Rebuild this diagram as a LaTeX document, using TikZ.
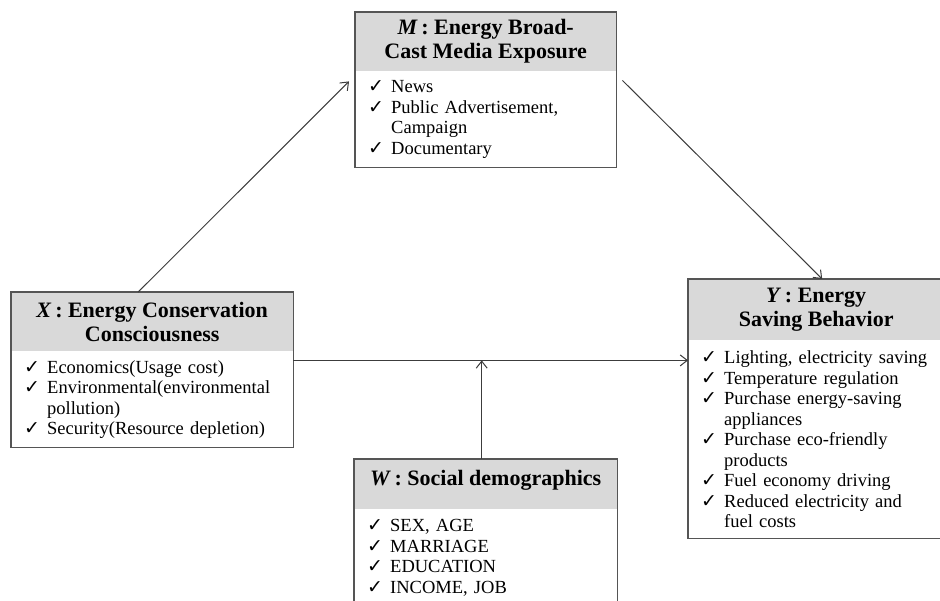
\documentclass[tikz,border=0pt]{standalone}
\usepackage{fontspec}
\setmainfont{Liberation Serif}
\newfontfamily\checkfont{DejaVu Sans}
\usepackage{tikz}
\usetikzlibrary{arrows.meta}
\usetikzlibrary{positioning}
\definecolor{headgray}{RGB}{217,217,217}
\definecolor{framegray}{RGB}{85,85,85}
\definecolor{linegray}{RGB}{60,60,60}
\newcommand{\tick}{\makebox[23pt][l]{\checkfont\fontsize{19}{19}\selectfont ✓}}
\newcommand{\cont}{\hspace*{23pt}}
\tikzstyle{model_style}=[
	x=1pt,y=1pt,
	>={Straight Barb[length=7pt,width=11pt]},
	header/.style={rectangle,fill=headgray,draw=none,inner sep=0pt,align=center,font=\fontsize{22}{24}\selectfont\bfseries},
	body/.style={rectangle,fill=white,draw=none,inner xsep=13pt,inner ysep=0pt,align=left,font=\fontsize{18.5}{20.5}\selectfont},
	boxframe/.style={draw=framegray,line width=1.3pt},
	path_edge/.style={->,color=linegray,line width=1pt}
]

\begin{document}
\begin{tikzpicture}[model_style]
	\useasboundingbox (0,0) rectangle (940,600);
	
	%X
	\node[header,minimum width=282pt,minimum height=59pt,anchor=north west] (hX) at (11,308) {\textit{X}\,:\ Energy Conservation\\Consciousness};
	\node[body,text width=256pt,minimum height=96pt,below=0pt of hX] (bX) {\tick Economics(Usage cost)\\\tick Environmental(environmental\\\cont pollution)\\\tick Security(Resource depletion)};
	
	%M
	\node[header,minimum width=261pt,minimum height=59pt,anchor=north west] (hM) at (355,588) {\textit{M}\,:\ Energy Broad-\\Cast Media Exposure};
	\node[body,text width=235pt,minimum height=96pt,below=0pt of hM] (bM) {\tick News\\\tick Public Advertisement,\\\cont Campaign\\\tick Documentary};
	
	%Y
	\node[header,minimum width=256pt,minimum height=61pt,anchor=north west] (hY) at (688,321) {\textit{Y}\,:\ Energy\\Saving Behavior};
	\node[body,text width=230pt,minimum height=198pt,below=0pt of hY] (bY) {\tick Lighting, electricity saving\\\tick Temperature regulation\\\tick Purchase energy-saving\\\cont appliances\\\tick Purchase eco-friendly\\\cont products\\\tick Fuel economy driving\\\tick Reduced electricity and\\\cont fuel costs};
	
	%W
	\node[header,minimum width=263pt,minimum height=50pt,text depth=12pt,anchor=north west] (hW) at (354,141) {\textit{W}\,:\ Social demographics};
	\node[body,text width=237pt,minimum height=96pt,below=0pt of hW] (bW) {\tick SEX, AGE\\\tick MARRIAGE\\\tick EDUCATION\\\tick INCOME, JOB};
	
	%frames
	\draw[boxframe] (hX.north west) rectangle (bX.south east);
	\draw[boxframe] (hM.north west) rectangle (bM.south east);
	\draw[boxframe] (hY.north west) rectangle (bY.south east);
	\draw[boxframe] (hW.north west) rectangle ([yshift=-20pt]bW.south east);
	
	\coordinate (jn) at ([yshift=-9pt]bX.north east);
	
	\path[path_edge] ([xshift=-14pt]hX.north) edge [] ([xshift=-6pt,yshift=-10pt]bM.north west)
	([xshift=6pt,yshift=-9pt]bM.north east) edge [] ([xshift=6pt]hY.north)
	(jn) edge [] (jn -| bY.west)
	([xshift=-4pt]hW.north) edge [] ([xshift=-4pt]hW.north |- jn);
	
\end{tikzpicture}
\end{document}
